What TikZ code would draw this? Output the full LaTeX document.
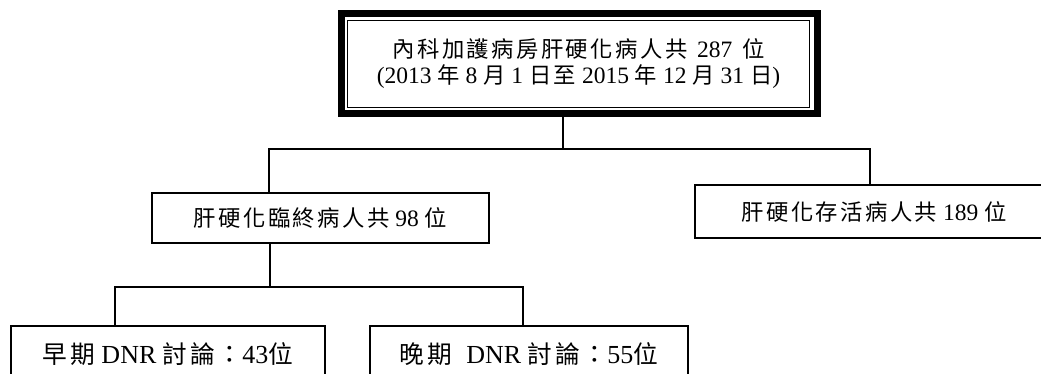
\documentclass[tikz,border=0pt]{standalone}
\usepackage{fontspec}
\setmainfont{Liberation Serif}
\newfontfamily\cjk[Scale=0.95]{Noto Sans CJK TC}
\makeatletter
\def\zhloop#1{\ifx\relax#1\else#1\kern0.11em\expandafter\zhloop\fi}
\newcommand\zh[1]{{\cjk\zhloop#1\relax\unkern}}
\makeatother
\tikzset{
  box/.style={draw=black, line width=1.5pt, inner sep=0pt, align=center},
  midtext/.style={font=\fontsize{23.5}{26}\selectfont},
  bottext/.style={font=\fontsize{26}{30}\selectfont},
  conn/.style={draw=black, line width=1.2pt},
  frame/.style={draw=black, line width=7pt, inner sep=0pt}
}
\begin{document}
\begin{tikzpicture}[x=1pt,y=1pt]
\useasboundingbox (0,0) rectangle (1041,-374);
\clip (0,0) rectangle (1041,-374);
\fill[white] (0,0) rectangle (1041,-374);
% top box
\node[frame, minimum width=476pt, minimum height=100pt] (topo) at (579.5,-63.5) {};
\node[box, line width=1.3pt, midtext, minimum width=462pt, minimum height=87pt] (top) at (578.5,-64)
  {\zh{內科加護病房肝硬化病人共}\, 287\, \zh{位}\\(2013 \zh{年} 8 \zh{月} 1 \zh{日至} 2015 \zh{年} 12 \zh{月} 31 \zh{日})};
% second level
\node[box, midtext, minimum width=337pt, minimum height=50pt] (b98) at (320.5,-218)
  {\zh{肝硬化臨終病人共} 98 \zh{位}};
\node[box, midtext, minimum width=358pt, minimum height=53pt] (b189) at (874,-211.5)
  {\zh{肝硬化存活病人共} 189 \zh{位}};
% third level
\node[box, bottext, minimum width=314pt, minimum height=56pt] (early) at (168,-354)
  {\zh{早期} DNR \zh{討論：}43\zh{位}};
\node[box, bottext, minimum width=318pt, minimum height=56pt] (late) at (529,-354)
  {\zh{晚期}\hspace{0.3em} DNR \zh{討論：}55\zh{位}};
% junctions
\coordinate (j1) at (563,-149);
\coordinate (jl) at (269,-149);
\coordinate (jr) at (870,-149);
\coordinate (k1) at (270,-287);
\coordinate (kl) at (115,-287);
\coordinate (kr) at (523,-287);
% connectors
\draw[conn] (j1 |- topo.south) -- (j1);
\draw[conn] (b98.north -| jl) -- (jl) -- (jr) -- (b189.north -| jr);
\draw[conn] (b98.south -| k1) -- (k1);
\draw[conn] (early.north -| kl) -- (kl) -- (kr) -- (late.north -| kr);
\end{tikzpicture}
\end{document}
